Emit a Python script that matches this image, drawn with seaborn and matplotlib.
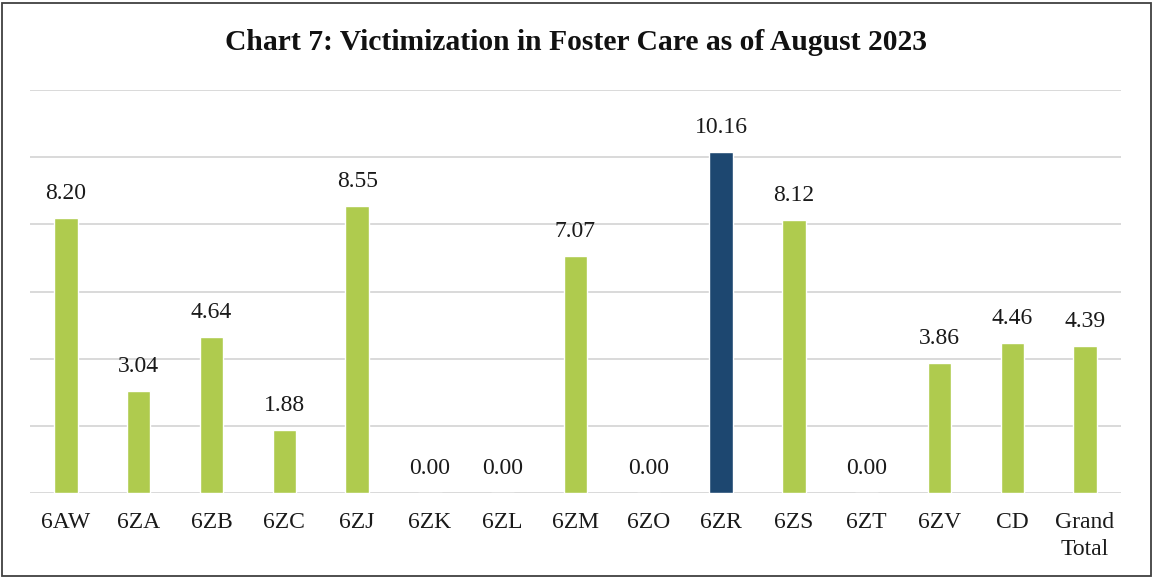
import matplotlib
matplotlib.use("Agg")
import matplotlib.pyplot as plt
import seaborn as sns
import pandas as pd
from matplotlib.patches import Rectangle

categories = ["6AW", "6ZA", "6ZB", "6ZC", "6ZJ", "6ZK", "6ZL", "6ZM", "6ZO",
              "6ZR", "6ZS", "6ZT", "6ZV", "CD", "Grand\nTotal"]
values = [8.20, 3.04, 4.64, 1.88, 8.55, 0.00, 0.00, 7.07, 0.00,
          10.16, 8.12, 0.00, 3.86, 4.46, 4.39]
highlight = "6ZR"

sns.set_theme(style="white")
plt.rcParams['font.family'] = ['Liberation Serif', 'DejaVu Serif']

green = "#AFCB4E"
navy = "#1D4770"
palette = {c: (navy if c == highlight else green) for c in categories}

df = pd.DataFrame({"cat": categories, "val": values})

fig = plt.figure(figsize=(11.54, 5.78), dpi=100)
ax = fig.add_axes([29.6 / 1154, (578 - 493) / 578, (1121.4 - 29.6) / 1154, (493 - 90) / 578])
sns.barplot(data=df, x="cat", y="val", hue="cat", palette=palette, legend=False,
            width=0.32, ax=ax, saturation=1)

ax.set_ylim(0, 12)
ax.set_yticks(range(0, 13, 2))
ax.yaxis.grid(True, color="#D9D9D9", linewidth=1.4)
ax.set_axisbelow(True)
ax.tick_params(axis="y", left=False, labelleft=False)
ax.tick_params(axis="x", bottom=False, labelsize=17, pad=8, colors="#1a1a1a")
for lbl in ax.get_xticklabels():
    lbl.set_linespacing(1.35)
for s in ax.spines.values():
    s.set_visible(False)
ax.set_xlabel("")
ax.set_ylabel("")

for i, v in enumerate(values):
    ax.annotate(f"{v:.2f}", (i, v), xytext=(0, 10), textcoords="offset points",
                ha="center", va="bottom", fontsize=17, color="#1a1a1a")

fig.text(576 / 1154, 1 - 43 / 578, "Chart 7: Victimization in Foster Care as of August 2023",
         ha="center", va="center", fontsize=21.3, fontweight="bold", color="#111111")

fig.patches.append(Rectangle((2 / 1154, 2 / 578), 1 - 5 / 1154, 1 - 5 / 578,
                             transform=fig.transFigure, fill=False,
                             edgecolor="#404040", linewidth=1.3))

fig.savefig("out.png", dpi=100)
